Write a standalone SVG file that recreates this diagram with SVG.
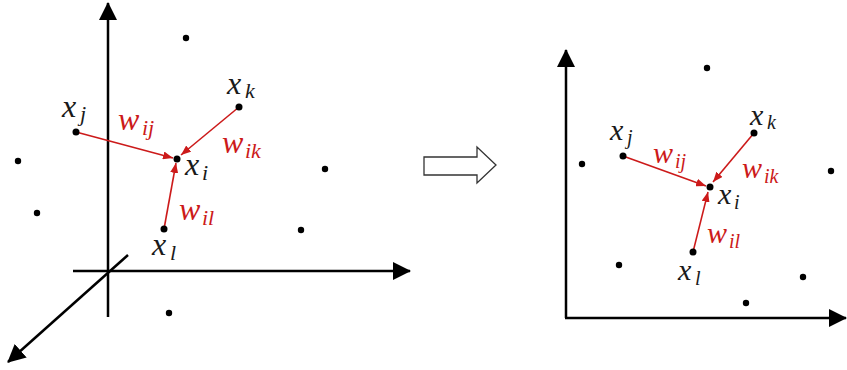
<svg xmlns="http://www.w3.org/2000/svg" width="847" height="370" viewBox="0 0 847 370">
<style>
.ax{stroke:#000;stroke-width:2.5;fill:none}
.rd{stroke:#cc1a1a;stroke-width:1.6;fill:none}
.dot{fill:#000}
</style>
<defs>
<marker id="ah" viewBox="0 0 18 18" refX="17" refY="9" markerWidth="18" markerHeight="18" markerUnits="userSpaceOnUse" orient="auto">
<path d="M0,0 L18,9 L0,18 z" fill="#000"/>
</marker>
<marker id="rh" viewBox="0 0 10 8" refX="10" refY="4" markerWidth="10" markerHeight="8" markerUnits="userSpaceOnUse" orient="auto">
<path d="M0,0 L10,4 L0,8 z" fill="#cc1a1a"/>
</marker>
</defs>
<rect width="847" height="370" fill="#fff"/>

<g id="axes-left">
<line class="ax" x1="108" y1="317" x2="108" y2="3" marker-end="url(#ah)"/>
<line class="ax" x1="73" y1="271" x2="410" y2="271" marker-end="url(#ah)"/>
<line class="ax" x1="128" y1="255" x2="8" y2="362" marker-end="url(#ah)"/>
</g>
<g id="axes-right">
<line class="ax" x1="566" y1="318" x2="566" y2="50" marker-end="url(#ah)"/>
<line class="ax" x1="565" y1="318" x2="846" y2="318" marker-end="url(#ah)"/>
</g>
<g id="transform-arrow">
<polygon points="424,157 477,157 477,147 496,165 477,183 477,175 424,175" fill="#fff" stroke="#333" stroke-width="1.3"/>
</g>

<g id="connectors">
<line class="rd" x1="76" y1="132" x2="173" y2="158" marker-end="url(#rh)"/>
<line class="rd" x1="239" y1="107" x2="181" y2="155" marker-end="url(#rh)"/>
<line class="rd" x1="164" y1="229" x2="176" y2="163" marker-end="url(#rh)"/>
<line class="rd" x1="623" y1="156" x2="706" y2="186" marker-end="url(#rh)"/>
<line class="rd" x1="754" y1="133" x2="713" y2="182" marker-end="url(#rh)"/>
<line class="rd" x1="693" y1="252" x2="708" y2="192" marker-end="url(#rh)"/>
</g>

<g id="left-others">
<circle class="dot" cx="186" cy="38" r="3.2"/>
<circle class="dot" cx="18" cy="161" r="3.2"/>
<circle class="dot" cx="37" cy="213" r="3.2"/>
<circle class="dot" cx="325" cy="169" r="3.2"/>
<circle class="dot" cx="301" cy="230" r="3.2"/>
<circle class="dot" cx="169" cy="313" r="3.2"/>
</g>
<g id="left-xi">
<circle class="dot" cx="177" cy="159" r="3.5"/>
<text x="185" y="175" font-family="Liberation Serif, serif" font-style="italic" font-size="32" fill="#1a1a1a">x<tspan x="202" y="180" font-size="22">i</tspan></text>
</g>
<g id="left-xj">
<circle class="dot" cx="76" cy="132" r="3.5"/>
<text x="62" y="117" font-family="Liberation Serif, serif" font-style="italic" font-size="32" fill="#1a1a1a">x<tspan x="80" y="121" font-size="22">j</tspan></text>
</g>
<g id="left-xk">
<circle class="dot" cx="239" cy="107" r="3.5"/>
<text x="227" y="94" font-family="Liberation Serif, serif" font-style="italic" font-size="32" fill="#1a1a1a">x<tspan x="245" y="98" font-size="22">k</tspan></text>
</g>
<g id="left-xl">
<circle class="dot" cx="164" cy="229" r="3.5"/>
<text x="152" y="255" font-family="Liberation Serif, serif" font-style="italic" font-size="32" fill="#1a1a1a">x<tspan x="170" y="260" font-size="22">l</tspan></text>
</g>
<g id="left-weights" font-family="Liberation Serif, serif" font-style="italic" fill="#cc1a1a">
<text x="118" y="130" font-size="32">w<tspan x="142" y="135" font-size="22">ij</tspan></text>
<text x="222" y="153" font-size="32">w<tspan x="245" y="158" font-size="22">ik</tspan></text>
<text x="179" y="220" font-size="32">w<tspan x="202" y="225" font-size="22">il</tspan></text>
</g>

<g id="right-others">
<circle class="dot" cx="707" cy="68" r="3.2"/>
<circle class="dot" cx="582" cy="164" r="3.2"/>
<circle class="dot" cx="831" cy="171" r="3.2"/>
<circle class="dot" cx="619" cy="265" r="3.2"/>
<circle class="dot" cx="803" cy="277" r="3.2"/>
<circle class="dot" cx="746" cy="303" r="3.2"/>
</g>
<g id="right-xi">
<circle class="dot" cx="710" cy="187" r="3.5"/>
<text x="718" y="204" font-family="Liberation Serif, serif" font-style="italic" font-size="30" fill="#1a1a1a">x<tspan x="734" y="209" font-size="20">i</tspan></text>
</g>
<g id="right-xj">
<circle class="dot" cx="623" cy="156" r="3.5"/>
<text x="610" y="140" font-family="Liberation Serif, serif" font-style="italic" font-size="30" fill="#1a1a1a">x<tspan x="627" y="144" font-size="20">j</tspan></text>
</g>
<g id="right-xk">
<circle class="dot" cx="754" cy="133" r="3.5"/>
<text x="750" y="125" font-family="Liberation Serif, serif" font-style="italic" font-size="30" fill="#1a1a1a">x<tspan x="767" y="129" font-size="20">k</tspan></text>
</g>
<g id="right-xl">
<circle class="dot" cx="693" cy="252" r="3.5"/>
<text x="678" y="280" font-family="Liberation Serif, serif" font-style="italic" font-size="30" fill="#1a1a1a">x<tspan x="695" y="285" font-size="20">l</tspan></text>
</g>
<g id="right-weights" font-family="Liberation Serif, serif" font-style="italic" fill="#cc1a1a">
<text x="653" y="163" font-size="30">w<tspan x="675" y="168" font-size="20">ij</tspan></text>
<text x="742" y="178" font-size="30">w<tspan x="764" y="183" font-size="20">ik</tspan></text>
<text x="707" y="243" font-size="30">w<tspan x="729" y="248" font-size="20">il</tspan></text>
</g>
</svg>
